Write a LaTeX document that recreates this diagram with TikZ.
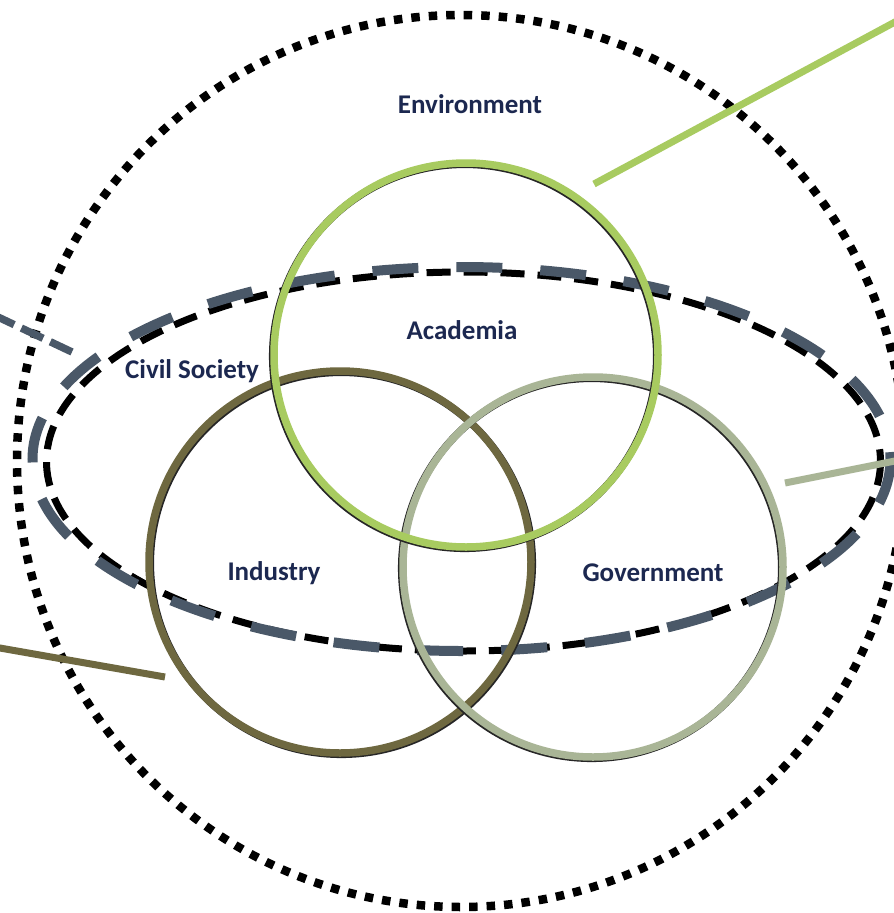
\documentclass[tikz,border=0pt]{standalone}
\usepackage{fontspec}
\setmainfont{Carlito}
\definecolor{acadgreen}{HTML}{A8CB60}
\definecolor{indolive}{HTML}{6E6840}
\definecolor{govgrey}{HTML}{A9B596}
\definecolor{slateblue}{HTML}{4A5868}
\definecolor{labelblue}{HTML}{1C2850}
\tikzset{
  lbl/.style={font=\bfseries\fontsize{27}{31}\selectfont, text=labelblue, inner sep=0pt},
  ring/.style={line width=7.5pt},
  ringshadow/.style={line width=7.5pt, black!85},
  envdots/.style={line width=8.5pt, dash pattern=on 8.5pt off 9pt, black},
  civblack/.style={line width=7pt, dash pattern=on 24pt off 13pt, black},
  civgrey/.style={line width=10pt, dash pattern=on 46pt off 38pt, slateblue},
  leader/.style={line width=7pt}
}
\begin{document}
\begin{tikzpicture}[x=1pt,y=-1pt]
\useasboundingbox (0,0) rectangle (894,913);
\clip (0,0) rectangle (894,913);
\fill[white] (0,0) rectangle (894,913);

% centres
\coordinate (env) at (461,461);
\coordinate (civB) at (463.5,461.5);
\coordinate (civG) at (461.5,459);
\coordinate (acad) at (466,355);
\coordinate (ind) at (340,562);
\coordinate (gov) at (593,567);

% environment
\draw[envdots] (env) ellipse [x radius=444, y radius=446];

% civil society
\draw[civblack] (civB) ellipse [x radius=417, y radius=189.5];
\draw[civgrey] (civG) ellipse [x radius=429, y radius=192];

% rings
\draw[ringshadow] ([shift={(1.3,1.3)}]ind) circle [radius=191];
\draw[ring, indolive] (ind) circle [radius=191];
\draw[ringshadow] ([shift={(-1.3,1.3)}]gov) circle [radius=190];
\draw[ring, govgrey] (gov) circle [radius=190];
\draw[ringshadow] ([shift={(-1.3,1.3)}]acad) circle [radius=192];
\draw[ring, acadgreen] (acad) circle [radius=192];

% leader lines
\coordinate (gA) at (594,184);
\coordinate (gB) at (960,-13);
\draw[leader, acadgreen] (gA) -- (gB);
\coordinate (vA) at (785,483);
\coordinate (vB) at (920,456);
\draw[leader, govgrey] (vA) -- (vB);
\coordinate (oA) at (165,677);
\coordinate (oB) at (-20,644.5);
\draw[leader, indolive] (oA) -- (oB);
\coordinate (sA) at (72,352);
\coordinate (sB) at (-20,308.5);
\draw[line width=7.5pt, slateblue, dash pattern=on 24pt off 8pt] (sA) -- (sB);

% labels
\node[lbl] (tenv) at (470,104) {Environment};
\node[lbl] (tacad) at (462,330) {Academia};
\node[lbl] (tciv) at (192,371) {Civil Society};
\node[lbl] (tind) at (274,573) {Industry};
\node[lbl] (tgov) at (653,573) {Government};
\end{tikzpicture}
\end{document}
